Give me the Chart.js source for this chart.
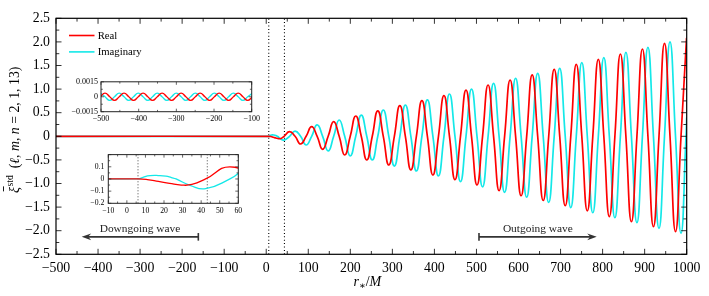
<!DOCTYPE html>
<html><head><meta charset="utf-8">
<script src="https://cdn.jsdelivr.net/npm/chart.js@4.4.1/dist/chart.umd.min.js"></script>
<style>
html,body{margin:0;padding:0;background:#fff;}
#wrap{position:relative;width:709px;height:296px;overflow:hidden;}
canvas{position:absolute;display:block;}
</style></head><body>
<div id="wrap">
<canvas id="main" width="709" height="296" style="left:0;top:0;width:709px;height:296px"></canvas>
<canvas id="in1" width="204" height="52" style="left:58px;top:74px;width:204px;height:52px"></canvas>
<canvas id="in2" width="178" height="72" style="left:70px;top:146px;width:178px;height:72px"></canvas>
</div>
<script>
// ---------------- data ----------------
const seriesLabels = ['Real', 'Imaginary'];

// main panel, real part: extrema and zero crossings
const realX = [-500, 6, 11, 17, 23, 29.3, 35, 42.4, 55.5, 68.6, 81.7, 94.9, 108.0, 121.1, 134.2, 147.3, 160.4, 173.5, 186.6, 199.8,
  212.9, 226.0, 239.1, 252.2, 265.3, 278.4, 291.5, 304.7, 317.8, 330.9, 344.0, 357.1, 370.2, 383.3, 396.4, 409.6,
  422.7, 435.8, 448.9, 462.0, 475.1, 488.2, 501.3, 514.5, 527.6, 540.7, 553.8, 566.9, 580.0, 593.1, 606.2, 619.4,
  632.5, 645.6, 658.7, 671.8, 684.9, 698.0, 711.1, 724.3, 737.4, 750.5, 763.6, 776.7, 789.8, 802.9, 816.0, 829.2,
  842.3, 855.4, 868.5, 881.6, 894.7, 907.8, 920.9, 934.1, 947.2, 960.3, 973.4, 986.5, 999.6, 1000];
const realY = [0, 0, -0.005, -0.02, -0.036, -0.05, -0.045, 0, 0.1, 0, -0.163, 0, 0.203, 0, -0.275, 0, 0.309, 0, -0.396, 0,
  0.43, 0, -0.502, 0, 0.54, 0, -0.608, 0, 0.648, 0, -0.714, 0, 0.754, 0, -0.82, 0,
  0.86, 0, -0.92, 0, 0.98, 0, -1.03, 0, 1.087, 0, -1.15, 0, 1.193, 0, -1.26, 0,
  1.30, 0, -1.36, 0, 1.42, 0, -1.47, 0, 1.525, 0, -1.58, 0, 1.63, 0, -1.70, 0,
  1.744, 0, -1.81, 0, 1.85, 0, -1.915, 0, 1.97, 0, -2.02, 0, 2.076, 2.076];

// main panel, imaginary part
const imagX = [-500, 6, 9, 12.5, 17, 21, 24, 26.5, 34, 42.4, 55.5, 68.6, 81.7, 94.9, 108.0, 121.1, 134.2, 147.3, 160.4, 173.5,
  186.6, 199.8, 212.9, 226.0, 239.1, 252.2, 265.3, 278.4, 291.5, 304.7, 317.8, 330.9, 344.0, 357.1, 370.2, 383.3,
  396.4, 409.6, 422.7, 435.8, 448.9, 462.0, 475.1, 488.2, 501.3, 514.5, 527.6, 540.7, 553.8, 566.9, 580.0, 593.1,
  606.2, 619.4, 632.5, 645.6, 658.7, 671.8, 684.9, 698.0, 711.1, 724.3, 737.4, 750.5, 763.6, 776.7, 789.8, 802.9,
  816.0, 829.2, 842.3, 855.4, 868.5, 881.6, 894.7, 907.8, 920.9, 934.1, 947.2, 960.3, 973.4, 986.5, 998.4, 1000];
const imagY = [0, 0, 0.016, 0.027, 0.028, 0.023, 0.011, 0, -0.052, -0.08, 0, 0.11, 0, -0.184, 0, 0.24, 0, -0.31, 0, 0.345,
  0, -0.417, 0, 0.45, 0, -0.50, 0, 0.557, 0, -0.63, 0, 0.663, 0, -0.735, 0, 0.77,
  0, -0.84, 0, 0.896, 0, -0.96, 0, 1.0, 0, -1.07, 0, 1.12, 0, -1.186, 0, 1.23,
  0, -1.29, 0, 1.335, 0, -1.40, 0, 1.44, 0, -1.51, 0, 1.56, 0, -1.62, 0, 1.665,
  0, -1.725, 0, 1.78, 0, -1.83, 0, 1.886, 0, -1.95, 0, 2.0, 0, -2.055, 0, 0.4];

// upper inset: tiny downgoing wave for -500 < r* < -100
const downX = [-501.7, -489.4, -476.8, -464.2, -451.5, -438.9, -426.3, -413.7, -401.0, -388.4, -375.8, -363.2, -350.5,
  -337.9, -325.3, -312.7, -300.0, -287.4, -274.8, -262.2, -249.5, -236.9, -224.3, -211.7, -199.0, -186.4, -173.8,
  -161.2, -148.5, -135.9, -123.3, -110.7, -98.0];
const downRealY = [0, 0.00037, 0, -0.00037, 0, 0.00037, 0, -0.00037, 0, 0.00037, 0, -0.00037, 0,
  0.00037, 0, -0.00037, 0, 0.00037, 0, -0.00037, 0, 0.00037, 0, -0.00037, 0, 0.00037, 0,
  -0.00037, 0, 0.00037, 0, -0.00037, 0];
const downImagY = [0.00037, 0, -0.00037, 0, 0.00037, 0, -0.00037, 0, 0.00037, 0, -0.00037, 0, 0.00037,
  0, -0.00037, 0, 0.00037, 0, -0.00037, 0, 0.00037, 0, -0.00037, 0, 0.00037, 0, -0.00037,
  0, 0.00037, 0, -0.00037, 0, 0.00037];

// dotted vertical markers
const markerX = [6, 43.3];

// axis tick settings
const mainXTicks = {min: -500, max: 1000, step: 100};
const mainYTicks = {min: -2.5, max: 2.5, step: 0.5};
const in1XTicks = {min: -500, max: -100, step: 100};
const in1YTicks = {min: -0.0015, max: 0.0015, step: 0.0015};
const in2XTicks = {min: -10, max: 60, step: 10};
const in2YTicks = {min: -0.2, max: 0.2, step: 0.1};

// arrow annotations
const arrowLabels = ['Downgoing wave', 'Outgoing wave'];
const arrowStartX = [-161.5, 506];
const arrowTipX = [-438.9, 786];
const arrowY = [-2.13, -2.13];

// ---------------- drawing ----------------
const RED = '#ff0000';
const CYAN = 'rgb(20,232,232)';
const SERIF = '"Liberation Serif", "DejaVu Serif", serif';
Chart.defaults.font.family = SERIF;
Chart.defaults.color = '#000';

const pts = (xs, ys) => xs.map((x, i) => ({x, y: ys[i]}));
const minus = s => String(s).replace('-', '\u2212');

const frameTicks = {
  id: 'frameTicks',
  afterDatasetsDraw(chart, args, o) {
    const {ctx, chartArea: a, scales: {x, y}} = chart;
    ctx.save();
    ctx.strokeStyle = o.color; ctx.lineWidth = o.tickWidth;
    const seg = (x1, y1, x2, y2) => { ctx.beginPath(); ctx.moveTo(x1, y1); ctx.lineTo(x2, y2); ctx.stroke(); };
    const xt = x.ticks.map(t => t.value), yt = y.ticks.map(t => t.value);
    const xv = (v, L) => { const p = x.getPixelForValue(v); seg(p, a.bottom, p, a.bottom - L); seg(p, a.top, p, a.top + L); };
    const yv = (v, L) => { const p = y.getPixelForValue(v); seg(a.left, p, a.left + L, p); seg(a.right, p, a.right - L, p); };
    xt.forEach(v => xv(v, o.major));
    yt.forEach(v => yv(v, o.major));
    for (let i = 0; i < xt.length - 1; i++) xv((xt[i] + xt[i + 1]) / 2, o.minor);
    for (let i = 0; i < yt.length - 1; i++) yv((yt[i] + yt[i + 1]) / 2, o.minor);
    ctx.lineWidth = o.frameWidth;
    ctx.strokeRect(a.left, a.top, a.right - a.left, a.bottom - a.top);
    ctx.restore();
  }
};

const mainDecor = {
  id: 'mainDecor',
  afterDraw(chart) {
    const {ctx, chartArea: a, scales: {x, y}} = chart;
    ctx.save();
    // legend
    const cols = [RED, CYAN];
    seriesLabels.forEach((lab, i) => {
      const ly = a.top + 17.2 + i * 16.4;
      ctx.strokeStyle = cols[i]; ctx.lineWidth = 1.6;
      ctx.beginPath(); ctx.moveTo(a.left + 13, ly); ctx.lineTo(a.left + 38.5, ly); ctx.stroke();
      ctx.fillStyle = '#000'; ctx.font = '10.7px ' + SERIF; ctx.textAlign = 'left'; ctx.textBaseline = 'alphabetic';
      ctx.fillText(lab, a.left + 41.7, ly + 3);
    });
    // arrows
    for (let i = 0; i < arrowLabels.length; i++) {
      const xs = x.getPixelForValue(arrowStartX[i]), xe = x.getPixelForValue(arrowTipX[i]), py = y.getPixelForValue(arrowY[i]);
      const d = Math.sign(xe - xs);
      ctx.strokeStyle = '#333'; ctx.fillStyle = '#333'; ctx.lineWidth = 1.6;
      ctx.beginPath(); ctx.moveTo(xs, py); ctx.lineTo(xe - d * 6, py); ctx.stroke();
      ctx.beginPath(); ctx.moveTo(xs, py - 3.8); ctx.lineTo(xs, py + 3.8); ctx.stroke();
      ctx.beginPath(); ctx.moveTo(xe, py); ctx.lineTo(xe - d * 9.5, py - 3.3); ctx.lineTo(xe - d * 6.5, py);
      ctx.lineTo(xe - d * 9.5, py + 3.3); ctx.closePath(); ctx.fill();
      ctx.fillStyle = '#222'; ctx.font = '11.4px ' + SERIF; ctx.textAlign = 'center'; ctx.textBaseline = 'alphabetic';
      ctx.fillText(arrowLabels[i], (xs + xe) / 2, py - 5.2);
    }
    // x title  r_*/M
    ctx.fillStyle = '#000'; ctx.textBaseline = 'alphabetic'; ctx.textAlign = 'left';
    const xparts = [['r', 'italic 14px ', 0], ['\u2217', '10px ', 3], ['/', '14px ', 0], ['M', 'italic 14px ', 0]];
    let tw = 0;
    xparts.forEach(p => { ctx.font = p[1] + SERIF; tw += ctx.measureText(p[0]).width; });
    let cx = (a.left + a.right) / 2 - 4 - tw / 2;
    xparts.forEach(p => { ctx.font = p[1] + SERIF; ctx.fillText(p[0], cx, 286 + p[2]); cx += ctx.measureText(p[0]).width; });
    // y title
    ctx.translate(18.6, 130);
    ctx.rotate(-Math.PI / 2);
    const yparts = [['\u03BE', 'italic 14px ', 0], ['std', '9.6px ', -6], ['\u2002(', '13.8px ', 0], ['\u2113', 'italic 13.8px ', 0],
      [', ', '13.8px ', 0], ['m', 'italic 13.8px ', 0], [', ', '13.8px ', 0], ['n', 'italic 13.8px ', 0], [' = 2, 1, 13)', '13.8px ', 0]];
    tw = 0;
    yparts.forEach(p => { ctx.font = p[1] + SERIF; tw += ctx.measureText(p[0]).width; });
    cx = -tw / 2;
    yparts.forEach((p, i) => {
      ctx.font = p[1] + SERIF;
      const w = ctx.measureText(p[0]).width;
      ctx.fillText(p[0], cx, p[2]);
      if (i === 0) ctx.fillRect(cx + 1.5, -15.5, w - 1, 0.9);
      cx += w + (i === 0 ? 0.5 : 0);
    });
    ctx.restore();
  }
};

function axis(t, fmt, fontSize, pad, fit, isX) {
  return {
    type: 'linear', min: t.min, max: t.max,
    grid: {display: false, drawTicks: false}, border: {display: false},
    ticks: {stepSize: t.step, autoSkip: false, maxRotation: 0, font: {size: fontSize}, padding: pad, color: '#000',
      callback: v => fmt(v)},
    afterFit: s => { if (isX) s.height = fit; else s.width = fit; }
  };
}

const fmtInt = v => minus(Math.round(v));
const fmt1 = v => Math.abs(v) < 1e-9 ? '0' : minus(v.toFixed(1));

new Chart(document.getElementById('main'), {
  type: 'line',
  data: {datasets: [
    {data: pts(realX, realY), borderColor: RED, borderWidth: 1.7, tension: 0.5, pointRadius: 0},
    {data: pts(imagX, imagY), borderColor: CYAN, borderWidth: 1.7, tension: 0.5, pointRadius: 0},
    ...markerX.map(m => ({data: [{x: m, y: mainYTicks.min}, {x: m, y: mainYTicks.max}], borderColor: '#000', borderWidth: 1.1,
      borderDash: [1, 2.4], pointRadius: 0}))
  ]},
  options: {
    responsive: false, animation: false, events: [],
    layout: {padding: {left: 0, top: 18.3, right: 22.3, bottom: 0}},
    scales: {
      x: axis(mainXTicks, fmtInt, 13.8, 6, 296 - 254.3, true),
      y: axis(mainYTicks, fmt1, 13.8, 6, 56, false)
    },
    plugins: {legend: {display: false}, tooltip: {enabled: false},
      frameTicks: {color: '#000', tickWidth: 0.8, major: 5.5, minor: 3.3, frameWidth: 1.2}}
  },
  plugins: [frameTicks, mainDecor]
});

const insetBg = {
  id: 'insetBg',
  beforeDatasetsDraw(chart) {
    const {ctx, chartArea: a} = chart;
    ctx.save(); ctx.fillStyle = '#fff'; ctx.fillRect(a.left, a.top, a.right - a.left, a.bottom - a.top); ctx.restore();
  }
};

new Chart(document.getElementById('in1'), {
  type: 'line',
  data: {datasets: [
    {data: pts(downX, downRealY), borderColor: RED, borderWidth: 1.3, tension: 0.5, pointRadius: 0},
    {data: pts(downX, downImagY), borderColor: CYAN, borderWidth: 1.3, tension: 0.5, pointRadius: 0}
  ]},
  options: {
    responsive: false, animation: false, events: [],
    layout: {padding: {left: 0, top: 6.3, right: 10.3, bottom: 0}},
    scales: {
      x: axis(in1XTicks, fmtInt, 8, 2, 52 - 37.7, true),
      y: axis(in1YTicks, v => Math.abs(v) < 1e-9 ? '0' : minus(v.toFixed(4)), 8, 3, 43, false)
    },
    plugins: {legend: {display: false}, tooltip: {enabled: false},
      frameTicks: {color: '#222', tickWidth: 0.7, major: 3, minor: 1.8, frameWidth: 1}}
  },
  plugins: [insetBg, frameTicks]
});

new Chart(document.getElementById('in2'), {
  type: 'line',
  data: {datasets: [
    {data: pts(realX, realY), borderColor: RED, borderWidth: 1.3, tension: 0.5, pointRadius: 0},
    {data: pts(imagX, imagY), borderColor: CYAN, borderWidth: 1.3, tension: 0.5, pointRadius: 0},
    ...markerX.map(m => ({data: [{x: m, y: in2YTicks.min}, {x: m, y: in2YTicks.max}], borderColor: '#333', borderWidth: 0.9,
      borderDash: [1, 2], pointRadius: 0}))
  ]},
  options: {
    responsive: false, animation: false, events: [],
    layout: {padding: {left: 0, top: 6.3, right: 9.7, bottom: 0}},
    scales: {
      x: axis(in2XTicks, fmtInt, 7.7, 3, 72 - 57.3, true),
      y: axis(in2YTicks, v => v > 0.15 ? '' : fmt1(v), 7.7, 4, 38.3, false)
    },
    plugins: {legend: {display: false}, tooltip: {enabled: false},
      frameTicks: {color: '#222', tickWidth: 0.7, major: 3, minor: 1.8, frameWidth: 1}}
  },
  plugins: [insetBg, frameTicks]
});
</script>
</body></html>
